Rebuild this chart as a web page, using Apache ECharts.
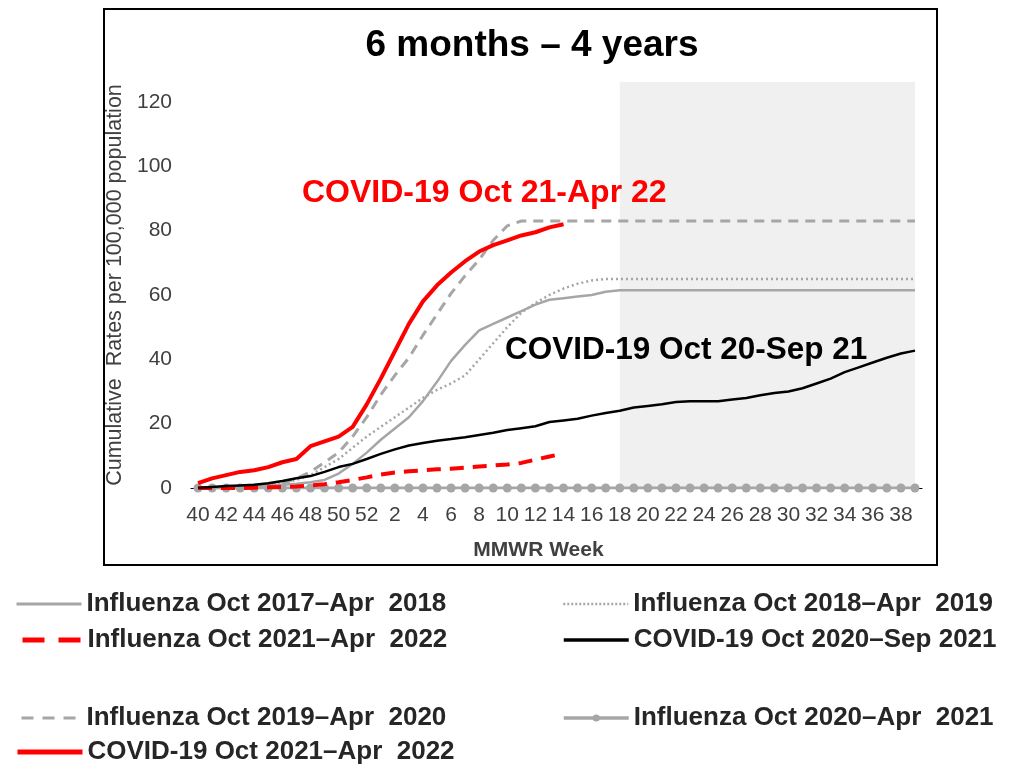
<!DOCTYPE html>
<html>
<head>
<meta charset="utf-8">
<script src="https://cdn.jsdelivr.net/npm/echarts@6/dist/echarts.min.js"></script>
<style>
  html, body { margin: 0; padding: 0; background: #fff; }
  #main { width: 1009px; height: 768px; }
</style>
</head>
<body>
<div id="main"></div>
<script>
// MMWR weeks, Oct (wk 40) to Sep (wk 39)
var weeks = ['40','41','42','43','44','45','46','47','48','49','50','51','52',
  '1','2','3','4','5','6','7','8','9','10','11','12','13','14','15','16','17','18','19','20',
  '21','22','23','24','25','26','27','28','29','30','31','32','33','34','35','36','37','38','39'];

var yTicks = [0, 20, 40, 60, 80, 100, 120];

// cumulative rates per 100,000
var flu1718 = [0,0,0.2,0.3,0.5,0.7,1,1.3,1.8,2.5,4.5,7.5,11,
  15,18.5,22,27,33,39.5,44.5,49,51,53,55,57,58.5,59,59.5,60,61,61.5,61.5,61.5,
  61.5,61.5,61.5,61.5,61.5,61.5,61.5,61.5,61.5,61.5,61.5,61.5,61.5,61.5,61.5,61.5,61.5,61.5,61.5];
var flu1819 = [0,0,0.2,0.4,0.6,1,1.5,2.5,4,6.5,9,12.5,16,
  19,22,25,28,30.5,32.5,35,40,45,50,54.5,57.5,60,62,63.5,64.5,65,65,65,65,
  65,65,65,65,65,65,65,65,65,65,65,65,65,65,65,65,65,65,65];
var flu1920 = [0,0,0,0.3,0.6,1,1.5,3,5,8,11,16,22,
  29,35,40.5,47.5,54,60.5,66,71,77,81.5,83,83,83,83,83,83,83,83,83,83,
  83,83,83,83,83,83,83,83,83,83,83,83,83,83,83,83,83,83,83];
var flu2021 = [0,0,0,0,0,0,0,0,0,0,0,0,0,
  0,0,0,0,0,0,0,0,0,0,0,0,0,0,0,0,0,0,0,0,
  0,0,0,0,0,0,0,0,0,0,0,0,0,0,0,0,0,0,0];
var flu2122 = [0,0,0,0,0.1,0.2,0.3,0.5,0.8,1.2,1.8,2.5,3.3,
  4.2,4.8,5.2,5.5,5.8,6,6.3,6.7,7,7.3,7.8,8.8,9.8,10.7];
var cov2021 = [0,0.3,0.6,0.8,1,1.5,2.2,3,3.7,5,6.5,7.5,9,
  10.6,12,13.2,14,14.7,15.2,15.8,16.5,17.2,18,18.6,19.2,20.5,21,21.5,22.5,23.3,24,25,25.5,
  26,26.7,27,27,27,27.5,28,28.8,29.5,30,31,32.5,34,36,37.5,39,40.5,41.8,42.7];
var cov2122 = [1.5,3,4,5,5.5,6.5,8,9,13,14.5,16,19,26,
  34,42.5,51,58,63,67,70.5,73.5,75.5,77,78.5,79.5,81,82];

var names = {
  flu1718: 'Influenza Oct 2017\u2013Apr  2018',
  flu1819: 'Influenza Oct 2018\u2013Apr  2019',
  flu2122: 'Influenza Oct 2021\u2013Apr  2022',
  cov2021: 'COVID-19 Oct 2020\u2013Sep 2021',
  flu1920: 'Influenza Oct 2019\u2013Apr  2020',
  flu2021: 'Influenza Oct 2020\u2013Apr  2021',
  cov2122: 'COVID-19 Oct 2021\u2013Apr  2022'
};

var sans = '"Liberation Sans", Arial, sans-serif';
var grey = '#a6a6a6';
var red = '#ff0000';

var chart = echarts.init(document.getElementById('main'));

var legendText = { fontFamily: sans, fontWeight: 'bold', fontSize: 26, color: '#262626', lineHeight: 26 };
// one legend per entry so each can sit where the reference puts it
function legendAt(name, left, top, lineStyle, marker) {
  return {
    data: [name], left: left, top: top, padding: 0, orient: 'horizontal',
    itemWidth: 65, itemHeight: marker ? 9 : 14, itemGap: 0, selectedMode: false,
    itemStyle: marker ? {} : { color: 'transparent', borderWidth: 0, opacity: 0 },
    lineStyle: lineStyle,
    textStyle: legendText
  };
}

var option = {
  animation: false,
  backgroundColor: '#fff',
  title: {
    text: '6 months \u2013 4 years',
    left: 527, top: 22, textAlign: 'center',
    textStyle: { fontFamily: sans, fontWeight: 'bold', fontSize: 37, color: '#000' }
  },
  legend: [
    legendAt(names.flu1718, 15, 591, { width: 3 }),
    legendAt(names.flu1819, 562, 591, { width: 2.5, type: [2, 2] }),
    legendAt(names.flu2122, 15, 627, { width: 5, type: [22, 14], dashOffset: -5 }),
    legendAt(names.cov2021, 562, 627, { width: 3.5 }),
    legendAt(names.flu1920, 15, 705, { width: 3, type: [12, 9] }),
    legendAt(names.flu2021, 562, 705, { width: 3.5 }, true),
    legendAt(names.cov2122, 15, 739, { width: 5 })
  ],
  grid: { left: 191, right: 87, top: 82, bottom: 280, containLabel: false },
  xAxis: {
    type: 'category',
    data: weeks,
    boundaryGap: true,
    axisLine: { lineStyle: { color: '#000', width: 1 } },
    axisTick: { show: false },
    axisLabel: { interval: 1, margin: 17, fontFamily: sans, fontSize: 21, color: '#404040' },
    name: 'MMWR Week',
    nameLocation: 'middle',
    nameGap: 52,
    nameTextStyle: { fontFamily: sans, fontWeight: 'bold', fontSize: 21, color: '#404040', padding: [0, 36, 0, 0] }
  },
  yAxis: {
    type: 'value',
    min: yTicks[0], max: 126.2, interval: 20,
    axisLine: { show: false },
    axisTick: { show: false },
    splitLine: { show: false },
    axisLabel: { showMaxLabel: false, margin: 19, fontFamily: sans, fontSize: 21, color: '#404040' },
    name: 'Cumulative  Rates per 100,000 population',
    nameLocation: 'middle',
    nameRotate: 90,
    nameGap: 58,
    nameTextStyle: { fontFamily: sans, fontSize: 21.5, color: '#404040' }
  },
  graphic: [
    { type: 'rect', shape: { x: 104, y: 9, width: 833, height: 556 }, style: { fill: 'none', stroke: '#000', lineWidth: 2 }, z: 100 },
    { type: 'text', x: 302, y: 193, style: { text: 'COVID-19 Oct 21-Apr 22', fill: red, font: 'bold 32px ' + sans, textVerticalAlign: 'middle' }, z: 100 },
    { type: 'text', x: 505, y: 350, style: { text: 'COVID-19 Oct 20-Sep 21', fill: '#000', font: 'bold 31.5px ' + sans, textVerticalAlign: 'middle' }, z: 100 }
  ],
  series: [
    {
      name: names.flu2021, type: 'line', data: flu2021,
      symbol: 'circle', symbolSize: 9, showSymbol: true,
      itemStyle: { color: grey }, lineStyle: { color: grey, width: 3 },
      markArea: {
        silent: true,
        itemStyle: { color: '#f0f0f0' },
        data: [[{ xAxis: '18', yAxis: 126.2 }, { xAxis: '39', yAxis: 0 }]]
      },
      z: 1
    },
    {
      name: names.flu1718, type: 'line', data: flu1718, symbol: 'none',
      itemStyle: { color: grey }, lineStyle: { color: grey, width: 2.5 }, z: 2
    },
    {
      name: names.flu1819, type: 'line', data: flu1819, symbol: 'none',
      itemStyle: { color: grey }, lineStyle: { color: grey, width: 2.5, type: [2, 3] }, z: 2
    },
    {
      name: names.flu1920, type: 'line', data: flu1920, symbol: 'none',
      itemStyle: { color: grey }, lineStyle: { color: grey, width: 3, type: [10, 7] }, z: 2
    },
    {
      name: names.flu2122, type: 'line', data: flu2122, symbol: 'none',
      itemStyle: { color: red }, lineStyle: { color: red, width: 4, type: [14, 9] }, z: 3
    },
    {
      name: names.cov2021, type: 'line', data: cov2021, symbol: 'none',
      itemStyle: { color: '#000' }, lineStyle: { color: '#000', width: 2.5 }, z: 3
    },
    {
      name: names.cov2122, type: 'line', data: cov2122, symbol: 'none',
      itemStyle: { color: red }, lineStyle: { color: red, width: 4 }, z: 4
    }
  ]
};

chart.setOption(option);
</script>
</body>
</html>
